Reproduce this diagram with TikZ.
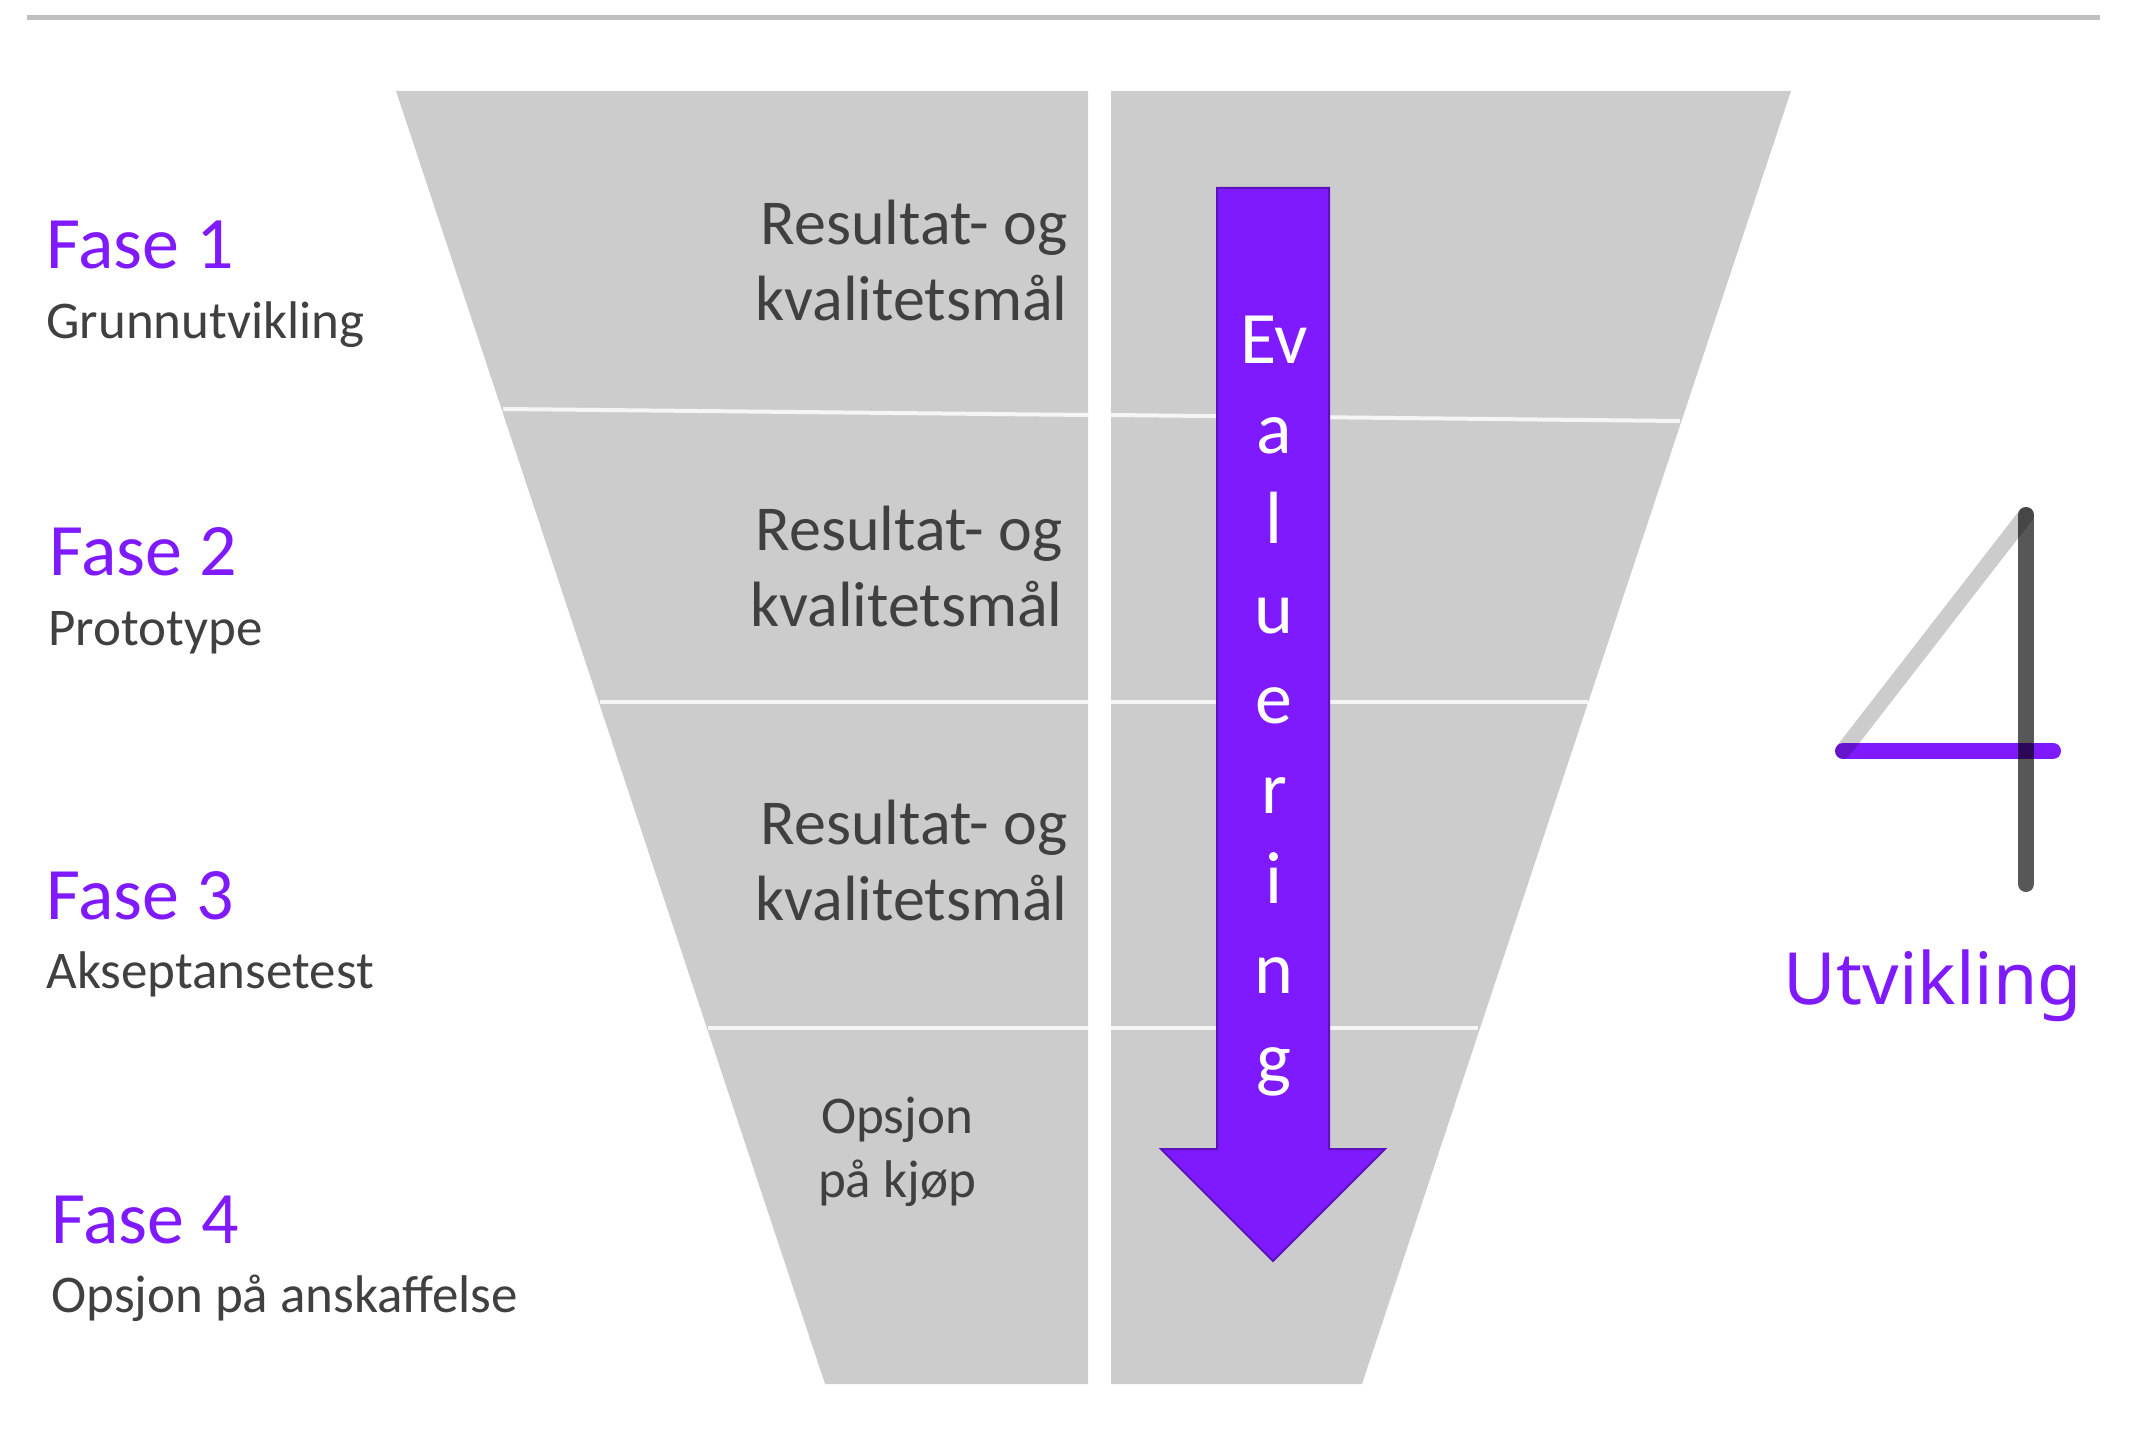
\documentclass[tikz,border=0pt]{standalone}
\usepackage{fontspec}
\setmainfont{Carlito}
\newfontfamily\utvfont{Noto Sans}
\definecolor{fiolett}{HTML}{7F1AFF}
\definecolor{fiolettkant}{HTML}{5B12BA}
\definecolor{traktgraa}{HTML}{CCCCCC}
\definecolor{tekstgraa}{HTML}{404040}
\tikzset{
	trakt/.style={fill=traktgraa, draw=none},
	skille/.style={draw=white!80!traktgraa, line width=2pt},
	fase/.style={anchor=base west, inner sep=0pt, text=fiolett, font=\fontsize{37}{44}\selectfont},
	faseinfo/.style={anchor=base west, inner sep=0pt, text=tekstgraa, font=\fontsize{26.5}{32}\selectfont},
	maal/.style={anchor=east, inner sep=0pt, align=right, text=tekstgraa, font=\fontsize{32}{38}\selectfont},
	strek/.style={line width=8pt, line cap=round},
}
\begin{document}
\begin{tikzpicture}[x=0.5pt,y=0.5pt,yscale=-1,xscale=1]
	\useasboundingbox (0,0) rectangle (2130,1438);
	\draw [color=black!25, line width=2.5pt] (27,18) -- (2100,18) ;
	% trakten
	\draw [trakt] (396,91) -- (1088,91) -- (1088,1384) -- (825,1384) -- cycle ;
	\draw [trakt] (1111,91) -- (1791,91) -- (1362,1384) -- (1111,1384) -- cycle ;
	\draw [skille] (503,409) -- (1088,415) ;
	\draw [skille] (1111,415) -- (1680,421) ;
	\draw [skille] (600,702) -- (1088,702) ;
	\draw [skille] (1111,702) -- (1588,702) ;
	\draw [skille] (708,1028) -- (1088,1028) ;
	\draw [skille] (1111,1028) -- (1478,1028) ;
	% pilen
	\draw [fill=fiolett, draw=fiolettkant, line width=1pt] (1217,188) -- (1329,188) -- (1329,1149) -- (1385,1149) -- (1273,1261) -- (1161,1149) -- (1217,1149) -- cycle ;
	\node (evaluering) [anchor=center, inner sep=0pt, align=center, text=white, font=\fontsize{37}{45}\selectfont] at (1274,706) {Ev\\a\\l\\u\\e\\r\\i\\n\\g};
	% fasene
	\node (fase1) [fase] at (46,269) {Fase 1};
	\node (info1) [faseinfo] at (46,339) {Grunnutvikling};
	\node (fase2) [fase] at (49,575) {Fase 2};
	\node (info2) [faseinfo] at (48,645) {Prototype};
	\node (fase3) [fase] at (46,919) {Fase 3};
	\node (info3) [faseinfo] at (46,988) {Akseptansetest};
	\node (fase4) [fase] at (51,1243) {Fase 4};
	\node (info4) [faseinfo] at (51,1312) {Opsjon på anskaffelse};
	\node (maal1) [maal] at (1068,261) {Resultat- og\\kvalitetsmål};
	\node (maal2) [maal] at (1063,567) {Resultat- og\\kvalitetsmål};
	\node (maal3) [maal] at (1068,861) {Resultat- og\\kvalitetsmål};
	\node (opsjon) [anchor=center, inner sep=0pt, align=center, text=tekstgraa, font=\fontsize{26.5}{32}\selectfont] at (897,1152) {Opsjon\\på kjøp};
	% firetallet
	\draw [strek, fiolett] (1843,751) -- (2053,751) ;
	\draw [strek, black, opacity=0.2] (1843,751) -- (2026,515) ;
	\draw [strek, black, opacity=0.66] (2026,515) -- (2026,884) ;
	\node (utvikling) [anchor=base, inner sep=0pt, text=fiolett, font=\utvfont\fontsize{36}{42}\selectfont] at (1933,1004) {Utvikling};
\end{tikzpicture}
\end{document}
